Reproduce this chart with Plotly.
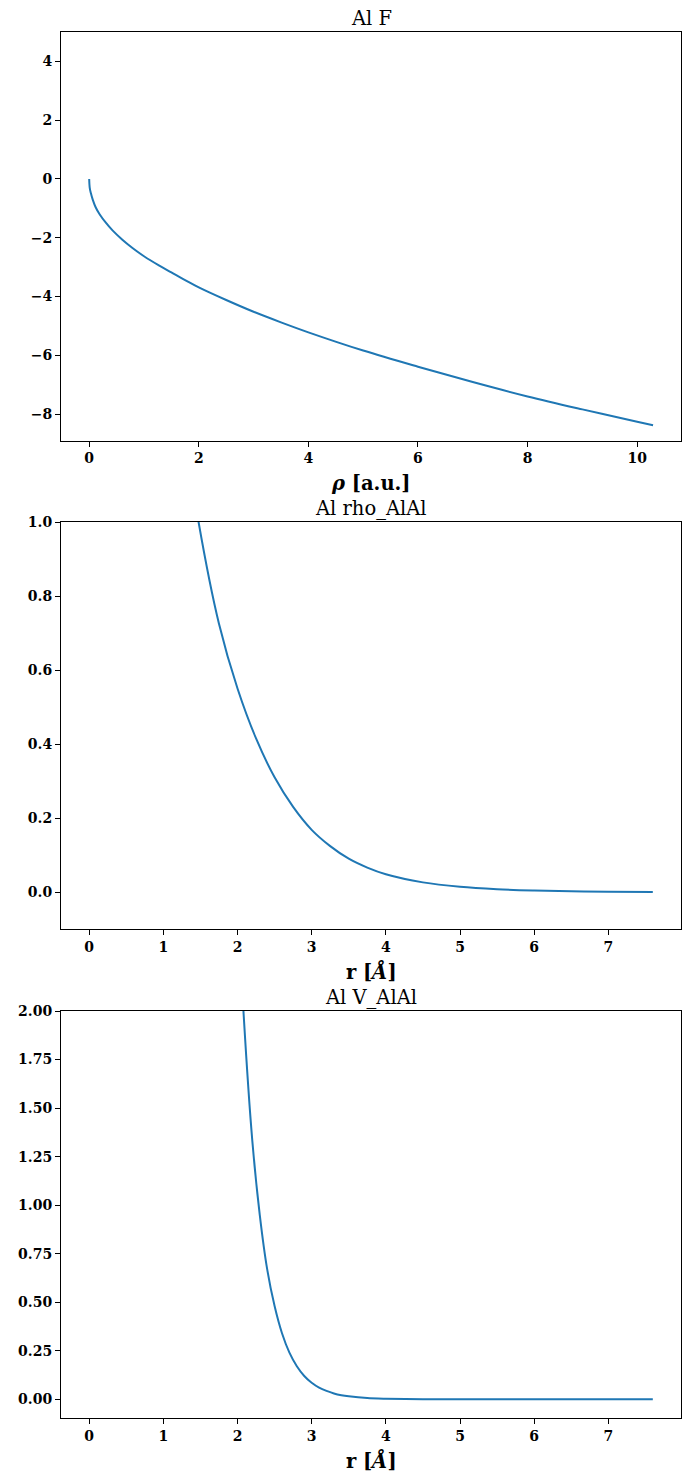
import plotly.graph_objects as go
from plotly.subplots import make_subplots

# Panel 1: Al F (embedding function vs rho)
rho = [0, 0.01, 0.03, 0.066, 0.12, 0.19, 0.3, 0.43, 0.6, 0.79, 1.0, 1.28, 1.5, 1.75,
       2.0, 2.5, 3.0, 3.5, 4.0, 5.0, 6.0, 7.0, 8.0, 9.0, 10.0, 10.29]
F_vals = [0, -0.30, -0.48, -0.71, -0.97, -1.20, -1.48, -1.76, -2.06, -2.35, -2.63,
          -2.95, -3.18, -3.44, -3.69, -4.12, -4.52, -4.88, -5.22, -5.84, -6.39,
          -6.91, -7.40, -7.84, -8.26, -8.38]

# Panel 2: Al rho_AlAl (density vs r)
r_rho = [0, 0.5, 1.0, 1.25, 1.475, 1.75, 2.0, 2.25, 2.5, 2.75, 3.0, 3.25, 3.5, 3.75,
         4.0, 4.5, 5.0, 5.5, 6.0, 6.5, 7.0, 7.6]
rho_vals = [5.5, 3.2, 1.75, 1.30, 1.0, 0.725, 0.55, 0.415, 0.31, 0.23, 0.168, 0.124,
            0.090, 0.066, 0.048, 0.026, 0.014, 0.0075, 0.004, 0.002, 0.001, 0.0]

# Panel 3: Al V_AlAl (pair potential vs r)
r_V = [0, 1.5, 1.8, 2.0, 2.08, 2.2, 2.3, 2.4, 2.5, 2.6, 2.7, 2.8, 2.9, 3.0, 3.1,
       3.2, 3.3, 3.4, 3.5, 3.75, 4.0, 4.5, 5.0, 6.0, 7.0, 7.6]
V_vals = [40, 14, 5.0, 2.6, 2.0, 1.33, 0.95, 0.67, 0.48, 0.34, 0.24, 0.17, 0.12,
          0.085, 0.060, 0.043, 0.030, 0.021, 0.015, 0.006, 0.003, 0.0007, 0.0002,
          0.0, 0.0, 0.0]

titles = ["Al F", "Al rho_AlAl", "Al V_AlAl"]
xlabels = ["<b><i>ρ</i> [a.u.]</b>", "<b>r [<i>Å</i>]</b>", "<b>r [<i>Å</i>]</b>"]

W, H = 690, 1484
FONT = "DejaVu Serif"
COLOR = "#1f77b4"

fig = make_subplots(rows=3, cols=1)

fig.add_trace(go.Scatter(x=rho, y=F_vals, mode="lines",
                         line=dict(color=COLOR, width=2, shape="spline", smoothing=1.0)),
              row=1, col=1)
fig.add_trace(go.Scatter(x=r_rho, y=rho_vals, mode="lines",
                         line=dict(color=COLOR, width=2, shape="spline", smoothing=1.0)),
              row=2, col=1)
fig.add_trace(go.Scatter(x=r_V, y=V_vals, mode="lines",
                         line=dict(color=COLOR, width=2, shape="spline", smoothing=0.8)),
              row=3, col=1)

# pixel boxes (top, bottom) of each plot area
boxes = [(32, 440.5), (522, 929), (1011, 1418.3)]
left_px, right_px = 60.7, 680.7

axis_common = dict(showline=True, linecolor="black", linewidth=1, mirror=True,
                   ticks="outside", ticklen=5, tickwidth=1, tickcolor="black",
                   showgrid=False, zeroline=False, automargin=False,
                   tickfont=dict(family=FONT, size=14, color="black", weight="bold"))

xranges = [[-0.5145, 10.80], [-0.38, 7.98], [-0.38, 7.98]]
yranges = [[-8.9, 5.0], [-0.1, 1.0], [-0.098, 2.0]]
xticks = [[0, 2, 4, 6, 8, 10], list(range(8)), list(range(8))]
yticks = [[-8, -6, -4, -2, 0, 2, 4],
          [0.0, 0.2, 0.4, 0.6, 0.8, 1.0],
          [0.0, 0.25, 0.5, 0.75, 1.0, 1.25, 1.5, 1.75, 2.0]]
yfmt = ["d", ".1f", ".2f"]

for i in range(3):
    top, bot = boxes[i]
    sfx = "" if i == 0 else str(i + 1)
    fig.layout["yaxis" + sfx].update(domain=[1 - bot / H, 1 - top / H], range=yranges[i],
                                     tickvals=yticks[i], tickformat=yfmt[i], **axis_common)
    fig.layout["xaxis" + sfx].update(range=xranges[i], tickvals=xticks[i], **axis_common)
    cx = 0.5
    fig.add_annotation(text=titles[i], xref="paper", yref="paper", x=cx,
                       y=1 - (top - 14) / H, xanchor="center", yanchor="middle",
                       showarrow=False, font=dict(family=FONT, size=19.5, color="black"))
    fig.add_annotation(text=xlabels[i], xref="paper", yref="paper", x=cx,
                       y=1 - (bot + 43) / H, xanchor="center", yanchor="middle",
                       showarrow=False, font=dict(family=FONT, size=19.5, color="black"))

fig.update_layout(width=W, height=H, showlegend=False,
                  margin=dict(l=left_px, r=W - right_px, t=0, b=0, pad=0),
                  paper_bgcolor="white", plot_bgcolor="white")

fig.write_html("out.html", config={"displayModeBar": False},
               post_script="document.body.style.margin='0px';"
                           "document.body.style.overflow='hidden';")
